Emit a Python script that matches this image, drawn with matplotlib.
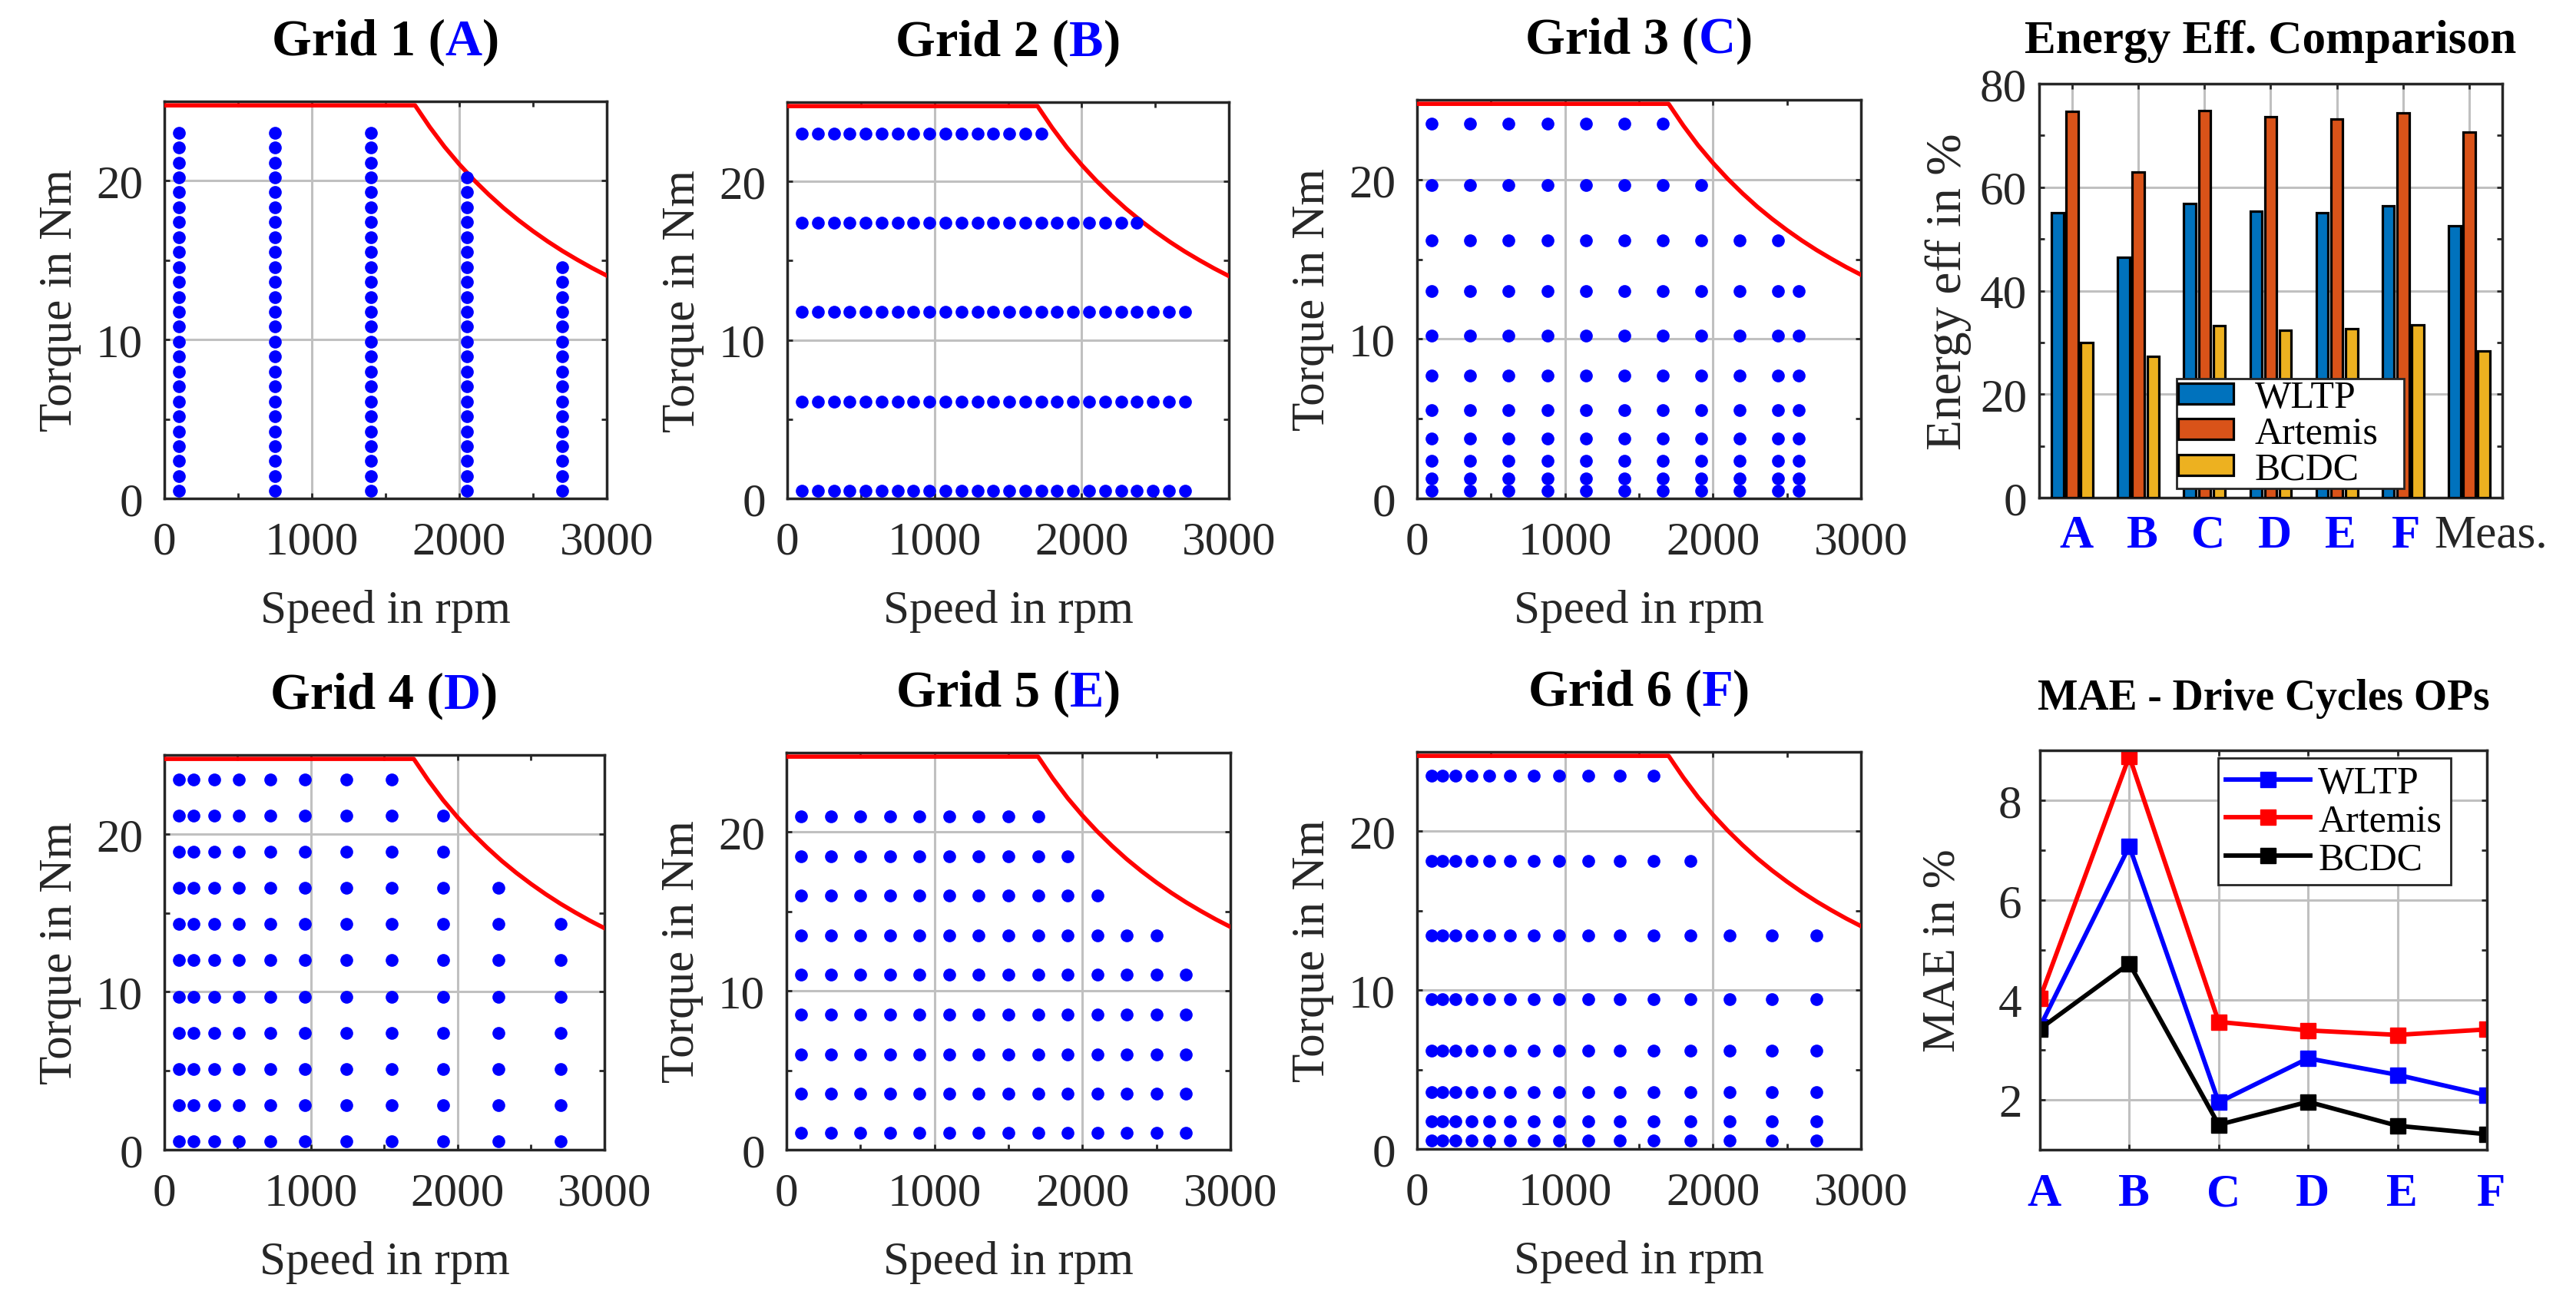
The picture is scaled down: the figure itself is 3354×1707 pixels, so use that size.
import numpy as np
import matplotlib
matplotlib.use('Agg')
import matplotlib.pyplot as plt
from matplotlib.ticker import MultipleLocator
from matplotlib.transforms import ScaledTranslation

plt.rcParams['font.family'] = ['Liberation Serif', 'DejaVu Serif']

# --- torque limit of the machine (rpm, Nm) ---
limit_speed = [0, 1700, 1800, 1900, 2000, 2100, 2200, 2300, 2400, 2500, 2600, 2700, 2800, 2900, 3000]
limit_torque = [24.75, 24.75, 23.38, 22.14, 21.04, 20.04, 19.13, 18.29, 17.53, 16.83, 16.18, 15.58, 15.03, 14.51, 14.03]

# --- measurement grids: speeds, torque rows, number of speed points per row ---
grid1_speed = [100, 750, 1400, 2050, 2700]
grid1_torque = [0.47, 1.41, 2.35, 3.29, 4.23, 5.17, 6.11, 7.05, 7.99, 8.93, 9.87, 10.81, 11.75,
                12.69, 13.63, 14.57, 15.51, 16.45, 17.39, 18.33, 19.27, 20.21, 21.15, 22.09, 23.03]
grid1_cols = [5] * 16 + [4] * 6 + [3] * 3

grid2_speed = [100, 208, 317, 425, 533, 642, 750, 858, 967, 1075, 1183, 1292, 1400,
               1508, 1617, 1725, 1833, 1942, 2050, 2158, 2267, 2375, 2483, 2592, 2700]
grid2_torque = [0.47, 6.11, 11.75, 17.39, 23.03]
grid2_cols = [25, 25, 25, 22, 16]

grid3_speed = [100, 360, 620, 880, 1140, 1400, 1660, 1920, 2180, 2440, 2580]
grid3_torque = [0.47, 1.25, 2.35, 3.78, 5.55, 7.69, 10.2, 12.99, 16.17, 19.66, 23.5]
grid3_cols = [11, 11, 11, 11, 11, 11, 11, 11, 10, 8, 7]

grid4_speed = [100, 200, 340, 510, 720, 960, 1240, 1550, 1900, 2280, 2700]
grid4_torque = [0.53, 2.82, 5.1, 7.41, 9.69, 12.0, 14.29, 16.57, 18.88, 21.17, 23.45]
grid4_cols = [11, 11, 11, 11, 11, 11, 11, 10, 9, 9, 8]

grid5_speed = [100, 300, 500, 700, 900, 1100, 1300, 1500, 1700, 1900, 2100, 2300, 2500, 2700]
grid5_torque = [1.06, 3.54, 6.02, 8.53, 11.02, 13.5, 16.0, 18.49, 21.0]
grid5_cols = [14, 14, 14, 14, 14, 13, 11, 10, 9]

grid6_speed = [100, 170, 260, 370, 490, 630, 790, 960, 1160, 1370, 1600, 1850, 2110, 2400, 2700]
grid6_torque = [0.53, 1.72, 3.59, 6.17, 9.45, 13.43, 18.13, 23.5]
grid6_cols = [15, 15, 15, 15, 15, 15, 12, 11]

# --- energy efficiency comparison (%) ---
eff_labels = ['A', 'B', 'C', 'D', 'E', 'F', 'Meas.']
eff_wltp = [55.1, 46.4, 56.8, 55.3, 55.1, 56.4, 52.5]
eff_artemis = [74.6, 62.9, 74.8, 73.6, 73.2, 74.4, 70.6]
eff_bcdc = [30.0, 27.3, 33.2, 32.4, 32.6, 33.4, 28.3]

# --- MAE drive cycle operating points (%) ---
mae_labels = ['A', 'B', 'C', 'D', 'E', 'F']
mae_wltp = [3.46, 7.08, 1.95, 2.83, 2.50, 2.09]
mae_artemis = [4.03, 8.88, 3.56, 3.39, 3.30, 3.41]
mae_bcdc = [3.42, 4.73, 1.50, 1.96, 1.48, 1.31]

W, H = 3355, 1708
DARK = '#262626'
fig = plt.figure(figsize=(W / 100, H / 100), dpi=100)


def frac(l, t, r, b):
    return [l / W, 1 - b / H, (r - l) / W, (b - t) / H]


def style(ax, xpad, ypad):
    for s in ax.spines.values():
        s.set_color(DARK)
        s.set_linewidth(2.5)
    ax.tick_params(which='both', direction='in', top=True, right=True, length=5,
                   width=2, color=DARK, labelsize=44, labelcolor=DARK)
    ax.tick_params(axis='x', pad=xpad)
    ax.tick_params(axis='y', pad=ypad)
    ax.grid(True, which='major', color='#c0c0c0', lw=2.2)
    ax.set_axisbelow(True)


def shift_xlabels(ax, shifts):
    for lab, dx in zip(ax.get_xticklabels(), shifts):
        lab.set_transform(lab.get_transform() + ScaledTranslation(dx / 100, 0, fig.dpi_scale_trans))


titles = []


def colored_title(ax, parts, up_px, size):
    hpx = ax.get_position().height * H
    texts = [ax.text(0, 1 + up_px / hpx, s, color=c, fontsize=size, fontweight='bold',
                     ha='left', va='baseline', transform=ax.transAxes) for s, c in parts]
    titles.append((ax, texts))


def grid_plot(box, speeds, torques, ncols, num, letter):
    ax = fig.add_axes(frac(*box))
    xs, ys = [], []
    for t, n in zip(torques, ncols):
        xs += speeds[:n]
        ys += [t] * n
    ax.plot(limit_speed, limit_torque, color='red', lw=4, zorder=3)
    ax.plot(xs, ys, 'o', color='blue', ms=12, mec='none', zorder=4)
    ax.set_xlim(0, 3000)
    ax.set_ylim(0, 25)
    ax.xaxis.set_major_locator(MultipleLocator(1000))
    ax.xaxis.set_minor_locator(MultipleLocator(500))
    ax.yaxis.set_major_locator(MultipleLocator(10))
    ax.yaxis.set_minor_locator(MultipleLocator(5))
    style(ax, 21, 20)
    ax.set_xlabel('Speed in rpm', fontsize=44, color=DARK, labelpad=24)
    ax.set_ylabel('Torque in Nm', fontsize=44, color=DARK, labelpad=14)
    colored_title(ax, [('Grid %d (' % num, 'black'), (letter, 'blue'), (')', 'black')], 61, 48)
    return ax


grid_plot((214, 133, 790, 650), grid1_speed, grid1_torque, grid1_cols, 1, 'A')
grid_plot((1025, 134, 1600, 650), grid2_speed, grid2_torque, grid2_cols, 2, 'B')
grid_plot((1845, 131, 2423, 650), grid3_speed, grid3_torque, grid3_cols, 3, 'C')
grid_plot((214, 984, 787, 1498), grid4_speed, grid4_torque, grid4_cols, 4, 'D')
grid_plot((1024, 981, 1602, 1498), grid5_speed, grid5_torque, grid5_cols, 5, 'E')
grid_plot((1845, 980, 2423, 1497), grid6_speed, grid6_torque, grid6_cols, 6, 'F')

# energy efficiency bars
ax = fig.add_axes(frac(2655, 110, 3258, 649))
x = np.arange(1, len(eff_labels) + 1)
bw = 0.18
ax.bar(x - 0.222, eff_wltp, bw, color='#0072BD', edgecolor='black', lw=2.3, label='WLTP', zorder=3)
ax.bar(x, eff_artemis, bw, color='#D95319', edgecolor='black', lw=2.3, label='Artemis', zorder=3)
ax.bar(x + 0.222, eff_bcdc, bw, color='#EDB120', edgecolor='black', lw=2.3, label='BCDC', zorder=3)
ax.set_xlim(0.5, 7.5)
ax.set_ylim(0, 80)
ax.set_xticks(x)
ax.set_xticklabels(eff_labels)
ax.yaxis.set_major_locator(MultipleLocator(20))
ax.yaxis.set_minor_locator(MultipleLocator(10))
style(ax, 15, 11.5)
for lab in ax.get_xticklabels():
    if lab.get_text() != 'Meas.':
        lab.set_color('blue')
        lab.set_fontweight('bold')
shift_xlabels(ax, [5, 5, 5, 5, 5, 4, 28])
ax.set_ylabel('Energy eff in %', fontsize=47, color=DARK, labelpad=8)
ax.set_title('Energy Eff. Comparison', fontsize=44, fontweight='bold', pad=29.5)
leg = ax.legend(loc='lower left', bbox_to_anchor=(0.297, 0.023, 0.491, 0.26), mode='expand',
                fontsize=36, borderaxespad=0, fancybox=False, framealpha=1, edgecolor=DARK,
                handlelength=1.45, handleheight=0.45, handletextpad=0.55, labelspacing=0.0,
                borderpad=0.03)
leg.get_frame().set_linewidth(2)

# MAE lines
ax = fig.add_axes(frac(2656, 978, 3238, 1498))
xm = np.arange(1, len(mae_labels) + 1)
ax.plot(xm, mae_wltp, '-s', color='blue', lw=4.2, ms=15, label='WLTP')
ax.plot(xm, mae_artemis, '-s', color='red', lw=4.2, ms=15, label='Artemis')
ax.plot(xm, mae_bcdc, '-s', color='black', lw=4.2, ms=15, label='BCDC')
ax.set_xlim(1, 6)
ax.set_ylim(1, 9)
ax.set_xticks(xm)
ax.set_xticklabels(mae_labels)
ax.yaxis.set_major_locator(MultipleLocator(2))
ax.yaxis.set_minor_locator(MultipleLocator(1))
style(ax, 21, 17)
for lab in ax.get_xticklabels():
    lab.set_color('blue')
    lab.set_fontweight('bold')
shift_xlabels(ax, [6] * 6)
ax.set_ylabel('MAE in %', fontsize=44, color=DARK, labelpad=32)
ax.set_title('MAE - Drive Cycles OPs', fontsize=40, fontweight='bold', pad=39)
leg = ax.legend(loc='upper left', bbox_to_anchor=(0.399, 0.5, 0.521, 0.481), mode='expand',
                fontsize=36, borderaxespad=0, fancybox=False, framealpha=1, edgecolor=DARK,
                handlelength=2.2, handletextpad=0.2, labelspacing=0.06, borderpad=0.2)
leg.get_frame().set_linewidth(2)

# center the multi-coloured grid titles
fig.canvas.draw()
r = fig.canvas.get_renderer()
for ax_t, texts in titles:
    aw = ax_t.get_window_extent(r).width
    widths = [t.get_window_extent(r).width / aw for t in texts]
    x0 = 0.5 - sum(widths) / 2
    for t, w in zip(texts, widths):
        t.set_x(x0)
        x0 += w

fig.savefig('out.png', dpi=100)
